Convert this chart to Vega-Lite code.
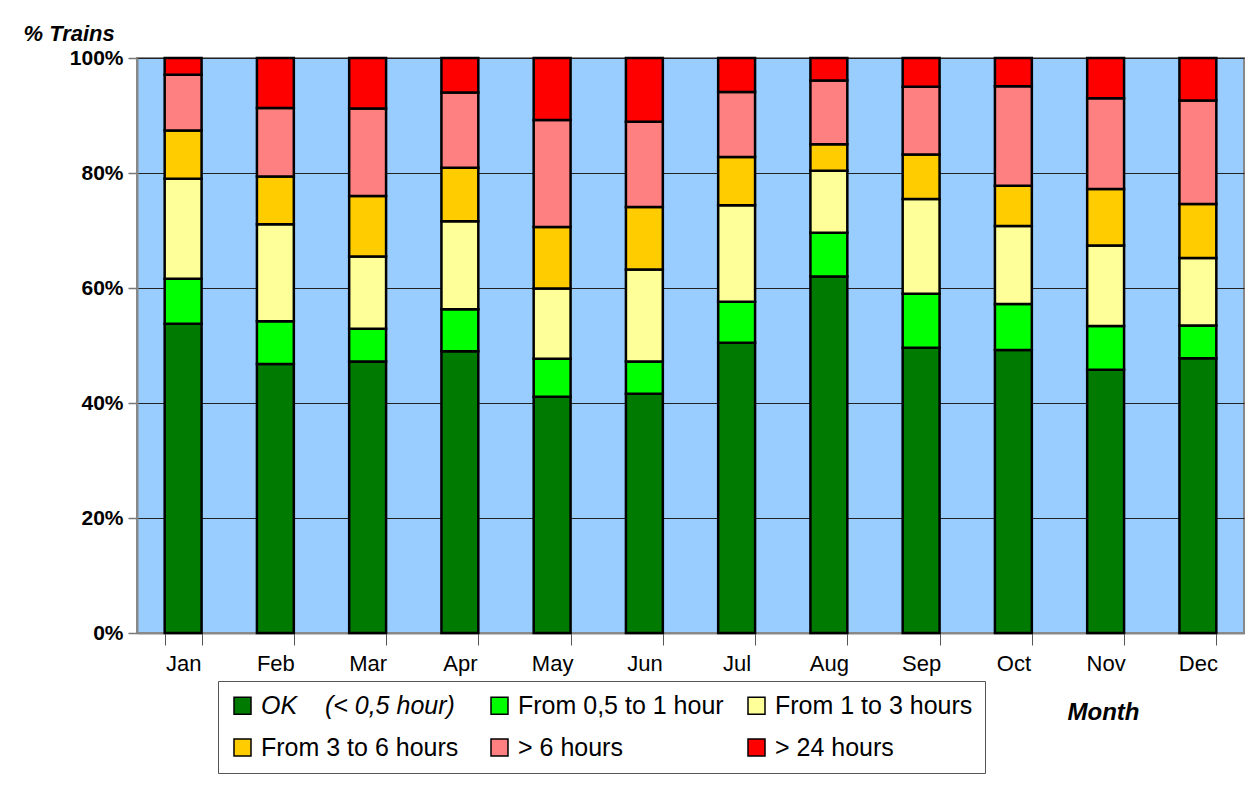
{
  "$schema": "https://vega.github.io/schema/vega-lite/v6.json",
  "autosize": {"type": "none"},
  "width": 1107,
  "height": 575,
  "padding": {"left": 137, "top": 58, "right": 16, "bottom": 154},
  "background": "white",
  "config": {
    "font": "Liberation Sans",
    "view": {"fill": "#99CCFF", "stroke": "#888888", "strokeWidth": 2}
  },
  "data": {"values": [
    {"month":"Jan","delay":"OK\u00a0\u00a0\u00a0\u00a0(< 0,5 hour)","pct":53.8},
    {"month":"Jan","delay":"From 0,5 to 1 hour","pct":7.8},
    {"month":"Jan","delay":"From 1 to 3 hours","pct":17.4},
    {"month":"Jan","delay":"From 3 to 6 hours","pct":8.4},
    {"month":"Jan","delay":"> 6 hours","pct":9.7},
    {"month":"Jan","delay":"> 24 hours","pct":2.9},
    {"month":"Feb","delay":"OK\u00a0\u00a0\u00a0\u00a0(< 0,5 hour)","pct":46.8},
    {"month":"Feb","delay":"From 0,5 to 1 hour","pct":7.4},
    {"month":"Feb","delay":"From 1 to 3 hours","pct":16.9},
    {"month":"Feb","delay":"From 3 to 6 hours","pct":8.3},
    {"month":"Feb","delay":"> 6 hours","pct":11.9},
    {"month":"Feb","delay":"> 24 hours","pct":8.7},
    {"month":"Mar","delay":"OK\u00a0\u00a0\u00a0\u00a0(< 0,5 hour)","pct":47.2},
    {"month":"Mar","delay":"From 0,5 to 1 hour","pct":5.7},
    {"month":"Mar","delay":"From 1 to 3 hours","pct":12.6},
    {"month":"Mar","delay":"From 3 to 6 hours","pct":10.5},
    {"month":"Mar","delay":"> 6 hours","pct":15.2},
    {"month":"Mar","delay":"> 24 hours","pct":8.8},
    {"month":"Apr","delay":"OK\u00a0\u00a0\u00a0\u00a0(< 0,5 hour)","pct":49.0},
    {"month":"Apr","delay":"From 0,5 to 1 hour","pct":7.3},
    {"month":"Apr","delay":"From 1 to 3 hours","pct":15.3},
    {"month":"Apr","delay":"From 3 to 6 hours","pct":9.3},
    {"month":"Apr","delay":"> 6 hours","pct":13.1},
    {"month":"Apr","delay":"> 24 hours","pct":6.0},
    {"month":"May","delay":"OK\u00a0\u00a0\u00a0\u00a0(< 0,5 hour)","pct":41.1},
    {"month":"May","delay":"From 0,5 to 1 hour","pct":6.6},
    {"month":"May","delay":"From 1 to 3 hours","pct":12.2},
    {"month":"May","delay":"From 3 to 6 hours","pct":10.7},
    {"month":"May","delay":"> 6 hours","pct":18.6},
    {"month":"May","delay":"> 24 hours","pct":10.8},
    {"month":"Jun","delay":"OK\u00a0\u00a0\u00a0\u00a0(< 0,5 hour)","pct":41.6},
    {"month":"Jun","delay":"From 0,5 to 1 hour","pct":5.6},
    {"month":"Jun","delay":"From 1 to 3 hours","pct":16.0},
    {"month":"Jun","delay":"From 3 to 6 hours","pct":10.9},
    {"month":"Jun","delay":"> 6 hours","pct":14.8},
    {"month":"Jun","delay":"> 24 hours","pct":11.1},
    {"month":"Jul","delay":"OK\u00a0\u00a0\u00a0\u00a0(< 0,5 hour)","pct":50.5},
    {"month":"Jul","delay":"From 0,5 to 1 hour","pct":7.1},
    {"month":"Jul","delay":"From 1 to 3 hours","pct":16.8},
    {"month":"Jul","delay":"From 3 to 6 hours","pct":8.4},
    {"month":"Jul","delay":"> 6 hours","pct":11.3},
    {"month":"Jul","delay":"> 24 hours","pct":5.9},
    {"month":"Aug","delay":"OK\u00a0\u00a0\u00a0\u00a0(< 0,5 hour)","pct":62.0},
    {"month":"Aug","delay":"From 0,5 to 1 hour","pct":7.6},
    {"month":"Aug","delay":"From 1 to 3 hours","pct":10.8},
    {"month":"Aug","delay":"From 3 to 6 hours","pct":4.6},
    {"month":"Aug","delay":"> 6 hours","pct":11.1},
    {"month":"Aug","delay":"> 24 hours","pct":3.9},
    {"month":"Sep","delay":"OK\u00a0\u00a0\u00a0\u00a0(< 0,5 hour)","pct":49.6},
    {"month":"Sep","delay":"From 0,5 to 1 hour","pct":9.4},
    {"month":"Sep","delay":"From 1 to 3 hours","pct":16.5},
    {"month":"Sep","delay":"From 3 to 6 hours","pct":7.7},
    {"month":"Sep","delay":"> 6 hours","pct":11.8},
    {"month":"Sep","delay":"> 24 hours","pct":5.0},
    {"month":"Oct","delay":"OK\u00a0\u00a0\u00a0\u00a0(< 0,5 hour)","pct":49.2},
    {"month":"Oct","delay":"From 0,5 to 1 hour","pct":8.0},
    {"month":"Oct","delay":"From 1 to 3 hours","pct":13.6},
    {"month":"Oct","delay":"From 3 to 6 hours","pct":7.0},
    {"month":"Oct","delay":"> 6 hours","pct":17.3},
    {"month":"Oct","delay":"> 24 hours","pct":4.9},
    {"month":"Nov","delay":"OK\u00a0\u00a0\u00a0\u00a0(< 0,5 hour)","pct":45.8},
    {"month":"Nov","delay":"From 0,5 to 1 hour","pct":7.6},
    {"month":"Nov","delay":"From 1 to 3 hours","pct":14.0},
    {"month":"Nov","delay":"From 3 to 6 hours","pct":9.8},
    {"month":"Nov","delay":"> 6 hours","pct":15.8},
    {"month":"Nov","delay":"> 24 hours","pct":7.0},
    {"month":"Dec","delay":"OK\u00a0\u00a0\u00a0\u00a0(< 0,5 hour)","pct":47.8},
    {"month":"Dec","delay":"From 0,5 to 1 hour","pct":5.7},
    {"month":"Dec","delay":"From 1 to 3 hours","pct":11.7},
    {"month":"Dec","delay":"From 3 to 6 hours","pct":9.4},
    {"month":"Dec","delay":"> 6 hours","pct":18.0},
    {"month":"Dec","delay":"> 24 hours","pct":7.4}
  ]},
  "transform": [
    {"lookup": "delay", "from": {"data": {"values": [
      {"delay": "OK\u00a0\u00a0\u00a0\u00a0(< 0,5 hour)", "lvl": 1},
      {"delay": "From 0,5 to 1 hour", "lvl": 2},
      {"delay": "From 1 to 3 hours", "lvl": 3},
      {"delay": "From 3 to 6 hours", "lvl": 4},
      {"delay": "> 6 hours", "lvl": 5},
      {"delay": "> 24 hours", "lvl": 6}
    ]}, "key": "delay", "fields": ["lvl"]}}
  ],
  "mark": {"type": "bar", "stroke": "black", "strokeWidth": 2.5},
  "encoding": {
    "x": {
      "field": "month", "type": "nominal",
      "sort": ["Jan","Feb","Mar","Apr","May","Jun","Jul","Aug","Sep","Oct","Nov","Dec"],
      "scale": {"paddingInner": 0.6, "paddingOuter": 0.3},
      "axis": {
        "title": "Month", "titleFont": "Liberation Sans", "titleFontSize": 24, "titleFontWeight": "bold", "titleFontStyle": "italic",
        "titleAlign": "center", "titleBaseline": "alphabetic", "titleX": 966, "titleY": 86, "titleAngle": 0,
        "labelAngle": 0, "labelFontSize": 22, "labelColor": "black", "labelPadding": 8,
        "tickBand": "extent", "tickSize": 12, "tickColor": "#555555", "tickWidth": 1,
        "domainColor": "#888888", "domainWidth": 2, "grid": false
      }
    },
    "y": {
      "field": "pct", "type": "quantitative", "stack": "zero",
      "scale": {"domain": [0, 100], "nice": false},
      "axis": {
        "title": "% Trains", "titleFont": "Liberation Sans", "titleFontSize": 22, "titleFontWeight": "bold", "titleFontStyle": "italic",
        "titleAngle": 0, "titleAlign": "left", "titleBaseline": "alphabetic", "titleX": -114, "titleY": -18,
        "values": [0, 20, 40, 60, 80, 100], "labelExpr": "datum.value + '%'",
        "labelFontSize": 21, "labelFontWeight": "bold", "labelColor": "black", "labelPadding": 5,
        "tickSize": 9, "tickColor": "#777777", "tickWidth": 1.5,
        "domainColor": "#888888", "domainWidth": 2,
        "grid": true, "gridColor": "#222222", "gridWidth": 1.2, "gridOpacity": 1
      }
    },
    "order": {"field": "lvl", "type": "quantitative", "sort": "ascending"},
    "color": {
      "field": "delay", "type": "nominal",
      "sort": ["OK\u00a0\u00a0\u00a0\u00a0(< 0,5 hour)", "From 0,5 to 1 hour", "From 1 to 3 hours", "From 3 to 6 hours", "> 6 hours", "> 24 hours"],
      "scale": {
        "domain": ["OK\u00a0\u00a0\u00a0\u00a0(< 0,5 hour)", "From 0,5 to 1 hour", "From 1 to 3 hours", "From 3 to 6 hours", "> 6 hours", "> 24 hours"],
        "range": ["#007A00", "#00FF00", "#FFFF99", "#FFCC00", "#FF8080", "#FF0000"]
      },
      "legend": {
        "title": null, "orient": "none", "legendX": 81, "legendY": 623,
        "direction": "horizontal", "columns": 3, "gridAlign": "all", "columnPadding": 20, "rowPadding": 16,
        "symbolType": "square", "symbolSize": 289, "symbolStrokeColor": "black", "symbolStrokeWidth": 1.5, "symbolOpacity": 1,
        "labelFontSize": 25, "labelColor": "black", "labelOffset": 6, "labelLimit": 400,
        "padding": 12, "strokeColor": "#555555", "fillColor": "white",
        "encode": {"labels": {"update": {"fontStyle": {"signal": "indexof(datum.label, 'OK') === 0 ? 'italic' : 'normal'"}}}}
      }
    }
  }
}
